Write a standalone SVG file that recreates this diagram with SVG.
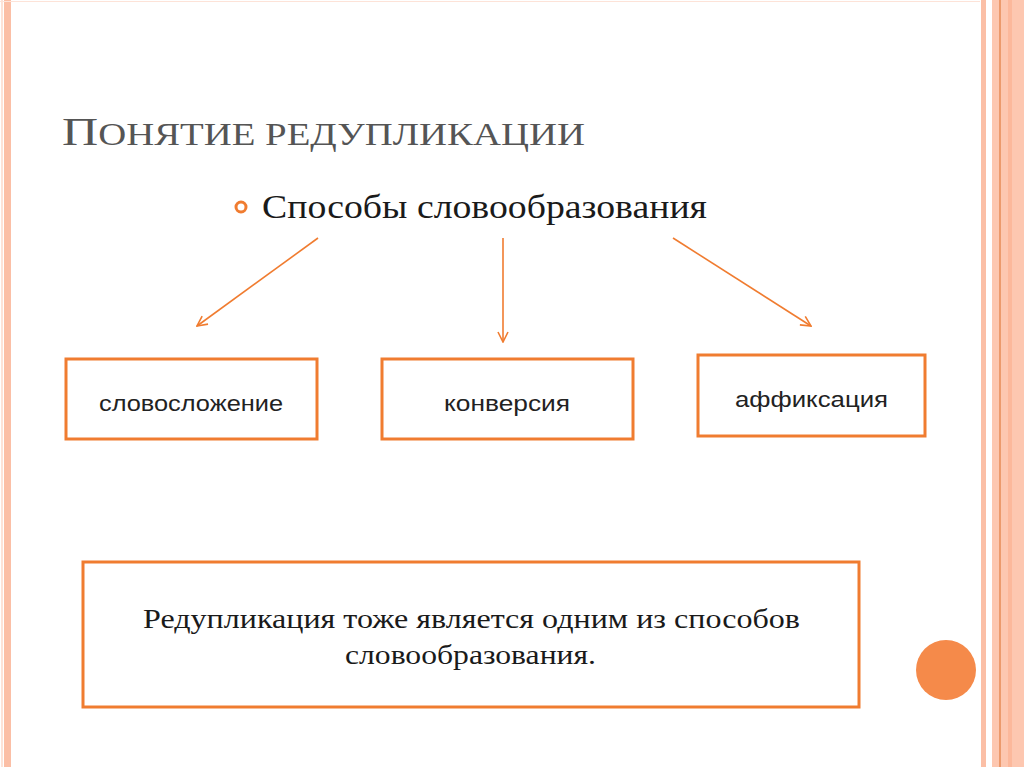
<svg xmlns="http://www.w3.org/2000/svg" width="1024" height="767" viewBox="0 0 1024 767">
<style>
.box{fill:#fff;stroke:#f07c30;stroke-width:3}
.lbl{font-family:"Liberation Sans",Arial,sans-serif;font-size:22px;fill:#222}
.serif{font-family:"Liberation Serif","Times New Roman",serif;fill:#1a1a1a}
.con{stroke:#f07c30;stroke-width:1.6;fill:none;marker-end:url(#ah)}
</style>
<defs><marker id="ah" viewBox="0 0 12 12" refX="11" refY="6" markerWidth="12" markerHeight="12" markerUnits="userSpaceOnUse" orient="auto"><path d="M1,1 L11,6 L1,11" fill="none" stroke="#f07c30" stroke-width="1.6"/></marker></defs>
<rect width="1024" height="767" fill="#fff"/>
<rect x="4" y="0" width="7" height="767" fill="#fbbfa6"/>
<rect x="1" y="0" width="2" height="767" fill="#fde3d8"/>
<rect x="0" y="1" width="980" height="1" fill="#fde3d8"/>
<rect x="981" y="0" width="5" height="767" fill="#fbbfa6"/>
<rect x="992" y="0" width="32" height="767" fill="#fdc7b0"/>
<rect x="999" y="0" width="2" height="767" fill="#ec9a6c"/>
<rect x="1008" y="0" width="4" height="767" fill="#fcb89b"/>
<text class="serif" x="62" y="145" font-size="40" style="fill:#555" textLength="523" lengthAdjust="spacingAndGlyphs">П<tspan font-size="31">ОНЯТИЕ РЕДУПЛИКАЦИИ</tspan></text>
<circle cx="241" cy="207" r="5" fill="none" stroke="#f07c30" stroke-width="3"/>
<text class="serif" x="262" y="218" font-size="34" textLength="445" lengthAdjust="spacingAndGlyphs">Способы словообразования</text>
<g id="connectors">
<line class="con" x1="318" y1="238" x2="197" y2="326"/>
<line class="con" x1="503" y1="238" x2="503" y2="342"/>
<line class="con" x1="673" y1="238" x2="811" y2="326"/>
</g>
<g id="n1"><rect class="box" x="66" y="359" width="251" height="80"/><text class="lbl" x="99" y="411" textLength="184" lengthAdjust="spacingAndGlyphs">словосложение</text></g>
<g id="n2"><rect class="box" x="382" y="359" width="251" height="80"/><text class="lbl" x="444" y="411" textLength="126" lengthAdjust="spacingAndGlyphs">конверсия</text></g>
<g id="n3"><rect class="box" x="698" y="355" width="227" height="81"/><text class="lbl" x="735" y="407" textLength="153" lengthAdjust="spacingAndGlyphs">аффиксация</text></g>
<g id="n4"><rect class="box" x="83" y="562" width="776" height="145"/>
<text class="serif" x="143" y="628" font-size="28" textLength="657" lengthAdjust="spacingAndGlyphs">Редупликация тоже является одним из способов</text>
<text class="serif" x="345" y="664" font-size="28" textLength="251" lengthAdjust="spacingAndGlyphs">словообразования.</text></g>
<circle cx="946" cy="670" r="30" fill="#f58a4a"/>
</svg>
